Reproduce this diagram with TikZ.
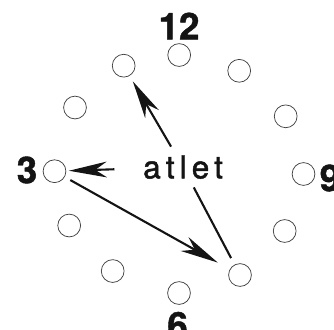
\documentclass[tikz,border=0pt]{standalone}
\usepackage{fontspec}
\setsansfont{TeX Gyre Heros}
\newfontfamily\cifrafont[BoldFeatures={FakeBold=1.2}]{TeX Gyre Heros}
\newfontfamily\atletfont[LetterSpace=16, FakeBold=1.4]{TeX Gyre Heros}
\usetikzlibrary{arrows.meta, positioning}
\definecolor{tinta}{HTML}{141414}
\tikzset{
  hora/.style={circle, draw=black!75, line width=0.7pt, minimum size=0.76cm, inner sep=0pt},
  cifra/.style={font=\fontsize{35}{36}\selectfont\cifrafont\bfseries, text=tinta, inner sep=0pt},
  flecha/.style={line width=2pt, draw=tinta, -{Stealth[length=36pt, width=15pt, inset=11pt]}},
}

\begin{document}
\begin{tikzpicture}
  \useasboundingbox (0,0) rectangle (11.133,10.967);

  % Esfera: doce posiciones en espejo
  \node[hora] (h12) at (5.973,9.133) {};
  \node[hora] (h1) at (4.123,8.777) {};
  \node[hora] (h2) at (2.500,7.383) {};
  \node[hora] (h3) at (1.817,5.260) {};
  \node[hora] (h4) at (2.307,3.450) {};
  \node[hora] (h5) at (3.757,1.933) {};
  \node[hora] (h6) at (5.967,1.200) {};
  \node[hora] (h7) at (8.000,1.800) {};
  \node[hora] (h8) at (9.490,3.267) {};
  \node[hora] (h9) at (10.117,5.167) {};
  \node[hora] (h10) at (9.523,7.090) {};
  \node[hora] (h11) at (7.973,8.607) {};

  % Cifras
  \node[cifra] (n12) at (5.967,10.100) {12};
  \node[cifra] (n3) at (0.900,5.300) {3};
  \node[cifra] (n9) at (11.000,5.033) {9};
  \node[cifra] (n6) at (5.917,0.120) {6};

  % Palabra central
  \node[font=\fontsize{30}{31}\selectfont\atletfont, text=tinta, inner xsep=27pt, inner ysep=8pt, anchor=base] (atlet) at (6.100,5.023) {atlet};

  % Flechas
  \draw[flecha, shorten >=6pt] (atlet) -- (h1);
  \draw[flecha, shorten >=2.5pt] (atlet) -- (h3);
  \draw[flecha, shorten <=6pt, shorten >=13pt] (h3) -- (h7);
  \draw[line width=2pt, draw=tinta, shorten >=7pt] (atlet) -- (h7);
\end{tikzpicture}
\end{document}
